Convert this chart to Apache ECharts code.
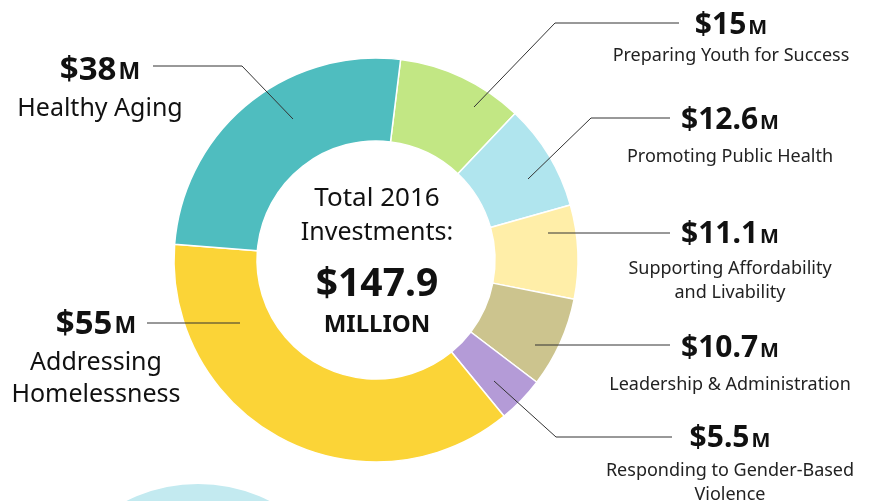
<!DOCTYPE html>
<html>
<head>
<meta charset="utf-8">
<script src="https://cdn.jsdelivr.net/npm/echarts@6/dist/echarts.min.js"></script>
<style>
  html, body { margin: 0; padding: 0; background: #fff; }
  #main { width: 875px; height: 501px; }
</style>
</head>
<body>
<div id="main"></div>
<script>
// data, clockwise from the top
var categories = [
  'Preparing Youth for Success',
  'Promoting Public Health',
  'Supporting Affordability\nand Livability',
  'Leadership & Administration',
  'Responding to Gender-Based\nViolence',
  'Addressing\nHomelessness',
  'Healthy Aging'
];
var values = [15, 12.6, 11.1, 10.7, 5.5, 55, 38];
var colors = ['#C2E784', '#B0E5EE', '#FFEEA8', '#CCC48E', '#B49BD7', '#FBD437', '#4FBDBF'];
var centerLines = ['Total 2016', 'Investments:'];
var unitText = 'MILLION';

// where each label sits and how its leader line runs (layout only)
var labelSpots = [
  { side: 'r', x: 731, y: 23,  gap: 4,  line: [[474, 107], [555, 23], [679, 23]] },
  { side: 'r', x: 730, y: 118, gap: 10, line: [[528, 179], [591, 118], [670, 118]] },
  { side: 'r', x: 730, y: 232, gap: 8,  line: [[548, 233], [610, 233], [670, 233]] },
  { side: 'r', x: 730, y: 346, gap: 10, line: [[535, 345], [600, 345], [670, 345]] },
  { side: 'r', x: 730, y: 436, gap: 6,  line: [[494, 381], [556, 437], [672, 437]] },
  { side: 'l', x: 96,  y: 321, gap: 6,  line: [[240, 323], [200, 323], [147, 323]] },
  { side: 'l', x: 100, y: 67,  gap: 6,  line: [[293, 119], [242, 66], [153, 66]] }
];

var font = '"Noto Sans", sans-serif';
var total = values.reduce(function (a, b) { return a + b; }, 0);

var myChart = echarts.init(document.getElementById('main'));

var rich = {
  vl: { fontSize: 33, fontWeight: 'bold', lineHeight: 40, color: '#111', fontFamily: font, verticalAlign: 'bottom' },
  ml: { fontSize: 23, fontWeight: 'bold', lineHeight: 40, color: '#111', fontFamily: font, padding: [0, 0, 3, 2], verticalAlign: 'bottom' },
  nl: { fontSize: 25, lineHeight: 32, color: '#111', fontFamily: font },
  vr: { fontSize: 30, fontWeight: 'bold', lineHeight: 34, color: '#111', fontFamily: font, verticalAlign: 'bottom' },
  mr: { fontSize: 20, fontWeight: 'bold', lineHeight: 34, color: '#111', fontFamily: font, padding: [0, 0, 2, 2], verticalAlign: 'bottom' },
  nr: { fontSize: 18, lineHeight: 24, color: '#222', fontFamily: font }
};
labelSpots.forEach(function (s, i) {
  rich['g' + i] = { fontSize: 1, lineHeight: s.gap };
});

var pieBase = {
  type: 'pie',
  center: [376, 260],
  radius: [119, 202],
  startAngle: 83,
  clockwise: true,
  avoidLabelOverlap: false,
  silent: true
};

var option = {
  backgroundColor: '#fff',
  animation: false,
  graphic: [
    { type: 'circle', z: -10, silent: true, shape: { cx: 198, cy: 643, r: 159 }, style: { fill: '#C3EAF0' } },
    { type: 'text', x: 377, y: 199, style: { text: centerLines[0], font: '26px ' + font, fill: '#111', textAlign: 'center', textVerticalAlign: 'middle' } },
    { type: 'text', x: 377, y: 233, style: { text: centerLines[1], font: '25px ' + font, fill: '#111', textAlign: 'center', textVerticalAlign: 'middle' } },
    { type: 'text', x: 377, y: 285, style: { text: '$' + total.toFixed(1), font: 'bold 39px ' + font, fill: '#111', textAlign: 'center', textVerticalAlign: 'middle' } },
    { type: 'text', x: 377, y: 325, style: { text: unitText, font: 'bold 24px ' + font, fill: '#111', textAlign: 'center', textVerticalAlign: 'middle' } }
  ],
  series: [
    // the ring
    Object.assign({}, pieBase, {
      z: 2,
      itemStyle: { borderColor: '#fff', borderWidth: 1.5 },
      label: { show: false },
      labelLine: { show: false },
      data: categories.map(function (c, i) {
        return { name: c, value: values[i], itemStyle: { color: colors[i] } };
      })
    }),
    // same ring, invisible, carrying the labels so their lines sit on top
    Object.assign({}, pieBase, {
      z: 3,
      itemStyle: { color: 'rgba(0,0,0,0)', borderWidth: 0 },
      label: {
        show: true,
        position: 'outside',
        color: '#111',
        fontFamily: font,
        formatter: function (p) {
          var s = labelSpots[p.dataIndex].side;
          var names = p.name.split('\n').map(function (t) {
            return '{n' + s + '|' + t + '}';
          }).join('\n');
          return '{v' + s + '|$' + p.value + '}{m' + s + '|M}\n{g' + p.dataIndex + '| }\n' + names;
        },
        rich: rich
      },
      labelLine: { show: true, lineStyle: { color: '#333', width: 1 } },
      labelLayout: function (params) {
        var spot = labelSpots[params.dataIndex];
        var lh = spot.side === 'l' ? 40 : 34;
        return {
          x: spot.x,
          y: spot.y - lh / 2,
          align: 'center',
          verticalAlign: 'top',
          labelLinePoints: spot.line
        };
      },
      data: categories.map(function (c, i) {
        return { name: c, value: values[i] };
      })
    })
  ]
};

myChart.setOption(option);
</script>
</body>
</html>
